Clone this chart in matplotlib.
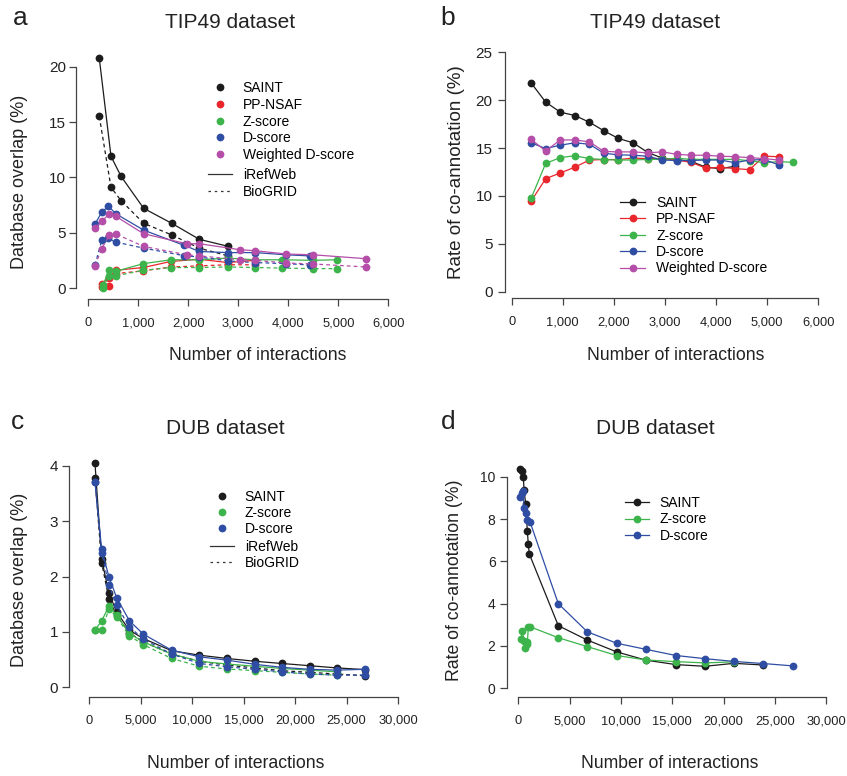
import numpy as np
import matplotlib
matplotlib.use("Agg")
import matplotlib.pyplot as plt
from matplotlib.lines import Line2D
from matplotlib.ticker import FuncFormatter

plt.rcParams['font.family'] = ['Liberation Sans', 'DejaVu Sans']

# ---- panel a : TIP49, database overlap (iRefWeb / BioGRID) ----
a_saint_x = [220, 454, 654, 1107, 1667, 2220, 2800]
a_saint_iref = [20.75, 11.9, 10.1, 7.2, 5.85, 4.4, 3.76]
a_saint_bio = [15.5, 9.1, 7.9, 5.85, 4.8, 3.6, 2.9]

a_nsaf_x = [267, 413, 547, 1100, 1653, 2213, 2787, 3333]
a_nsaf_iref = [0.4, 0.9, 1.6, 1.85, 2.4, 2.6, 2.3, 2.5]
a_nsaf_bio = [0.05, 0.2, 1.3, 1.55, 1.9, 2.0, 2.1, 2.1]

a_z_x = [300, 413, 547, 1100, 1653, 2213, 2787, 3333, 3873, 4500, 4980]
a_z_iref = [0.3, 1.65, 1.5, 2.2, 2.55, 2.55, 2.7, 2.55, 2.55, 2.5, 2.55]
a_z_bio = [0.0, 1.1, 1.1, 1.6, 1.85, 1.85, 1.9, 1.85, 1.8, 1.75, 1.75]

a_d_x = [133, 267, 400, 553, 1107, 1920, 2220, 2800, 3333, 3960, 4433]
a_d_iref = [5.77, 6.83, 7.4, 6.7, 5.23, 3.85, 3.3, 3.2, 3.2, 3.0, 2.9]
a_d_bio = [2.05, 4.3, 4.48, 4.15, 3.6, 2.92, 2.8, 2.45, 2.3, 2.2, 2.08]

a_w_x = [133, 267, 420, 553, 1107, 1967, 2220, 3033, 3333, 3960, 4500, 5553]
a_w_iref = [5.41, 6.02, 6.7, 6.47, 4.9, 4.0, 4.0, 3.46, 3.37, 3.07, 3.0, 2.65]
a_w_bio = [2.02, 3.55, 4.75, 4.87, 3.76, 3.0, 2.9, 2.56, 2.5, 2.26, 2.17, 1.9]

# ---- panel b : TIP49, rate of co-annotation ----
b_x = [380, 665, 950, 1235, 1520, 1805, 2090, 2375, 2660, 2945,
       3230, 3515, 3800, 4085, 4370, 4655, 4940, 5225, 5510]
b_saint = [21.8, 19.8, 18.75, 18.4, 17.7, 16.8, 16.0, 15.55, 14.55, 13.95,
           13.8, 13.6, 13.0, 12.85, 13.1]
b_nsaf = [9.45, 11.8, 12.4, 13.0, 13.75, 13.8, 13.8, 13.95, 13.9, 13.9,
          13.75, 13.5, 12.9, 13.0, 12.85, 12.75, 14.15, 14.1]
b_z = [9.75, 13.4, 14.0, 14.2, 13.9, 13.8, 13.75, 13.75, 13.82, 13.82,
       13.93, 13.82, 13.82, 13.82, 13.82, 13.68, 13.47, 13.58, 13.51]
b_d = [15.55, 14.95, 15.3, 15.55, 15.4, 14.45, 14.3, 14.25, 14.15, 13.75,
       13.7, 13.7, 13.75, 13.75, 13.47, 13.75, 13.8, 13.25]
b_w = [15.9, 14.7, 15.85, 15.85, 15.65, 14.65, 14.6, 14.6, 14.5, 14.6,
       14.35, 14.25, 14.25, 14.15, 14.1, 14.0, 13.9, 13.75]

# ---- panel c : DUB, database overlap ----
c_x = [550, 1200, 1900, 2650, 3900, 5250, 8000, 10700, 13400, 16100,
       18700, 21400, 24050, 26750]
c_saint_iref = [4.05, 2.31, 1.71, 1.36, 1.03, 0.88, 0.66, 0.58, 0.52, 0.47, 0.43, 0.39, 0.35, 0.32]
c_saint_bio = [3.77, 2.25, 1.6, 1.3, 0.98, 0.82, 0.6, 0.47, 0.4, 0.35, 0.3, 0.27, 0.24, 0.21]
c_z_iref = [1.03, 1.2, 1.46, 1.31, 0.97, 0.82, 0.6, 0.47, 0.42, 0.38, 0.34, 0.31, 0.28]
c_z_bio = [1.03, 1.03, 1.41, 1.27, 0.93, 0.77, 0.52, 0.38, 0.33, 0.3, 0.27, 0.24, 0.22]
c_d_iref = [3.71, 2.49, 2.0, 1.62, 1.2, 0.96, 0.67, 0.55, 0.49, 0.415, 0.36, 0.325, 0.31, 0.325]
c_d_bio = [3.71, 2.43, 1.85, 1.48, 1.09, 0.87, 0.6, 0.43, 0.37, 0.325, 0.28, 0.24, 0.22, 0.22]

# ---- panel d : DUB, rate of co-annotation ----
d_saint_x = [160, 330, 490, 560, 720, 876, 975, 1070, 3895, 6719, 9581,
             12432, 15353, 18178, 21002, 23858]
d_saint = [10.35, 10.25, 10.0, 9.35, 8.72, 7.45, 6.8, 6.35, 2.96, 2.28, 1.72,
           1.33, 1.12, 1.04, 1.18, 1.1]
d_z_x = [260, 390, 552, 650, 811, 876, 974, 1136, 3895, 6719, 9581,
         12432, 15353, 18178, 21002]
d_z = [2.31, 2.72, 2.24, 1.89, 2.2, 2.09, 2.88, 2.91, 2.39, 1.97, 1.55,
       1.34, 1.26, 1.2, 1.25]
d_d_x = [160, 325, 487, 552, 746, 876, 1136, 3895, 6719, 9581, 12432,
         15353, 18178, 21002, 23858, 26714]
d_d = [9.02, 9.24, 9.34, 8.5, 8.3, 7.95, 7.87, 4.0, 2.67, 2.13, 1.84,
       1.55, 1.4, 1.27, 1.17, 1.06]

BLACK = '#1c1c1c'
RED = '#e8262b'
GREEN = '#3cb44b'
BLUE = '#2f4ea3'
PURPLE = '#b44ea8'
AXC = '#444444'

W, H = 847, 776
fig = plt.figure(figsize=(W / 100, H / 100), dpi=100)


def box(l, r, t, b):
    return [l / W, 1 - b / H, (r - l) / W, (b - t) / H]


def style(ax, xmax, xstep, ymax, ystep, xfs, yfs, ypad):
    for s in ['top', 'right']:
        ax.spines[s].set_visible(False)
    for s in ['left', 'bottom']:
        ax.spines[s].set_color(AXC)
        ax.spines[s].set_linewidth(0.9)
    ax.spines['left'].set_bounds(0, ymax)
    ax.spines['bottom'].set_bounds(0, xmax)
    ax.set_xticks(np.arange(0, xmax + 1, xstep))
    ax.set_yticks(np.arange(0, ymax + 0.001, ystep))
    ax.xaxis.set_major_formatter(FuncFormatter(lambda v, p: f'{int(round(v)):,}'))
    ax.tick_params(axis='both', direction='out', length=5, width=0.9, color=AXC, labelcolor='#222222')
    ax.tick_params(axis='x', labelsize=xfs, pad=8)
    ax.tick_params(axis='y', labelsize=yfs, pad=ypad)
    ax.patch.set_visible(False)


def pair(ax, x, yi, yb, color):
    ax.plot(x[:len(yi)], yi, '-', color=color, lw=0.9, clip_on=False)
    ax.plot(x[:len(yb)], yb, '-', color=color, lw=0.9, dashes=(3, 2.5), clip_on=False)
    ax.plot(x[:len(yi)], yi, 'o', color=color, ms=5.6, mew=0, clip_on=False)
    ax.plot(x[:len(yb)], yb, 'o', color=color, ms=5.6, mew=0, clip_on=False)


def series(ax, x, y, color):
    ax.plot(x[:len(y)], y, '-', color=color, lw=0.9, marker='o', ms=5.6, mew=0, clip_on=False)


def point_handle(c):
    return Line2D([], [], ls='none', marker='o', color=c, ms=5.6, mew=0)


def line_point_handle(c):
    return Line2D([], [], ls='-', lw=0.9, marker='o', color=c, ms=5.6, mew=0)


def db_handles():
    return [Line2D([], [], color='#333333', lw=0.9),
            Line2D([], [], color='#333333', lw=0.9, dashes=(2, 3))]


def leg(ax, handles, labels, x, y, fs=10, ls=0.2, hl=1.7):
    return ax.legend(handles, labels, loc='upper left',
                     bbox_to_anchor=(x / W, 1 - y / H), bbox_transform=fig.transFigure,
                     frameon=False, fontsize=fs, handlelength=hl, handletextpad=0.8,
                     labelspacing=ls, borderpad=0, borderaxespad=0)


names5 = ['SAINT', 'PP-NSAF', 'Z-score', 'D-score', 'Weighted D-score']
cols5 = [BLACK, RED, GREEN, BLUE, PURPLE]
names3 = ['SAINT', 'Z-score', 'D-score']
cols3 = [BLACK, GREEN, BLUE]

# ---------- a ----------
ax = fig.add_axes(box(76, 395, 55, 299))
ax.set_xlim((76 - 88.3) / 0.05, (395 - 88.3) / 0.05)
ax.set_ylim((288 - 299) / 11.065, (288 - 55) / 11.065)
style(ax, 6000, 1000, 20, 5, 9.3, 11, 2)
pair(ax, a_saint_x, a_saint_iref, a_saint_bio, BLACK)
pair(ax, a_nsaf_x, a_nsaf_iref, a_nsaf_bio, RED)
pair(ax, a_z_x, a_z_iref, a_z_bio, GREEN)
pair(ax, a_d_x, a_d_iref, a_d_bio, BLUE)
pair(ax, a_w_x, a_w_iref, a_w_bio, PURPLE)
ax.add_artist(leg(ax, [point_handle(c) for c in cols5], names5, 208, 81))
leg(ax, db_handles(), ['iRefWeb', 'BioGRID'], 208, 168)

# ---------- b ----------
ax = fig.add_axes(box(505, 822, 45, 298))
ax.set_xlim((505 - 511.7) / 0.0511, (822 - 511.7) / 0.0511)
ax.set_ylim((291.7 - 298) / 9.576, (291.7 - 45) / 9.576)
style(ax, 6000, 1000, 25, 5, 9.3, 11, 4)
series(ax, b_x, b_saint, BLACK)
series(ax, b_x, b_nsaf, RED)
series(ax, b_x, b_z, GREEN)
series(ax, b_x, b_d, BLUE)
series(ax, b_x, b_w, PURPLE)
leg(ax, [line_point_handle(c) for c in cols5], names5, 620, 196, ls=0.17, hl=1.8)

# ---------- c ----------
ax = fig.add_axes(box(69, 400, 455, 696.7))
ax.set_xlim((69 - 89.3) / 0.01029, (400 - 89.3) / 0.01029)
ax.set_ylim((687.3 - 696.7) / 55.4, (687.3 - 455) / 55.4)
style(ax, 30000, 5000, 4, 1, 9.3, 11, 3)
pair(ax, c_x, c_saint_iref, c_saint_bio, BLACK)
pair(ax, c_x, c_z_iref, c_z_bio, GREEN)
pair(ax, c_x, c_d_iref, c_d_bio, BLUE)
ax.add_artist(leg(ax, [point_handle(c) for c in cols3], names3, 210, 490, ls=0.15))
leg(ax, db_handles(), ['iRefWeb', 'BioGRID'], 210, 540, ls=0.15)

# ---------- d ----------
ax = fig.add_axes(box(506.7, 830, 455, 697.3))
ax.set_xlim((506.7 - 518.3) / 0.01027, (830 - 518.3) / 0.01027)
ax.set_ylim((688.3 - 697.3) / 21.16, (688.3 - 455) / 21.16)
style(ax, 30000, 5000, 10, 2, 9.3, 10, 3)
series(ax, d_saint_x, d_saint, BLACK)
series(ax, d_z_x, d_z, GREEN)
series(ax, d_d_x, d_d, BLUE)
leg(ax, [line_point_handle(c) for c in cols3], names3, 625, 496, ls=0.17)

# ---------- labels ----------
def ftext(x, y, s, **kw):
    fig.text(x / W, 1 - y / H, s, ha='center', va='center', color='#222222', **kw)

ftext(20, 18, 'a', fontsize=19)
ftext(448, 18, 'b', fontsize=19)
ftext(17, 422, 'c', fontsize=19)
ftext(448, 422, 'd', fontsize=19)
ftext(230, 22, 'TIP49 dataset', fontsize=15)
ftext(655, 22, 'TIP49 dataset', fontsize=15)
ftext(225, 428, 'DUB dataset', fontsize=15)
ftext(655, 428, 'DUB dataset', fontsize=15)
ftext(258, 356, 'Number of interactions', fontsize=12.7)
ftext(676, 356, 'Number of interactions', fontsize=12.7)
ftext(236, 763, 'Number of interactions', fontsize=12.7)
ftext(670, 763, 'Number of interactions', fontsize=12.7)
ftext(20, 182, 'Database overlap (%)', fontsize=13, rotation=90)
ftext(456, 172, 'Rate of co-annotation (%)', fontsize=13.5, rotation=90)
ftext(20, 580, 'Database overlap (%)', fontsize=13, rotation=90)
ftext(454, 580, 'Rate of co-annotation (%)', fontsize=12.7, rotation=90)

fig.savefig('out.png', dpi=100)
